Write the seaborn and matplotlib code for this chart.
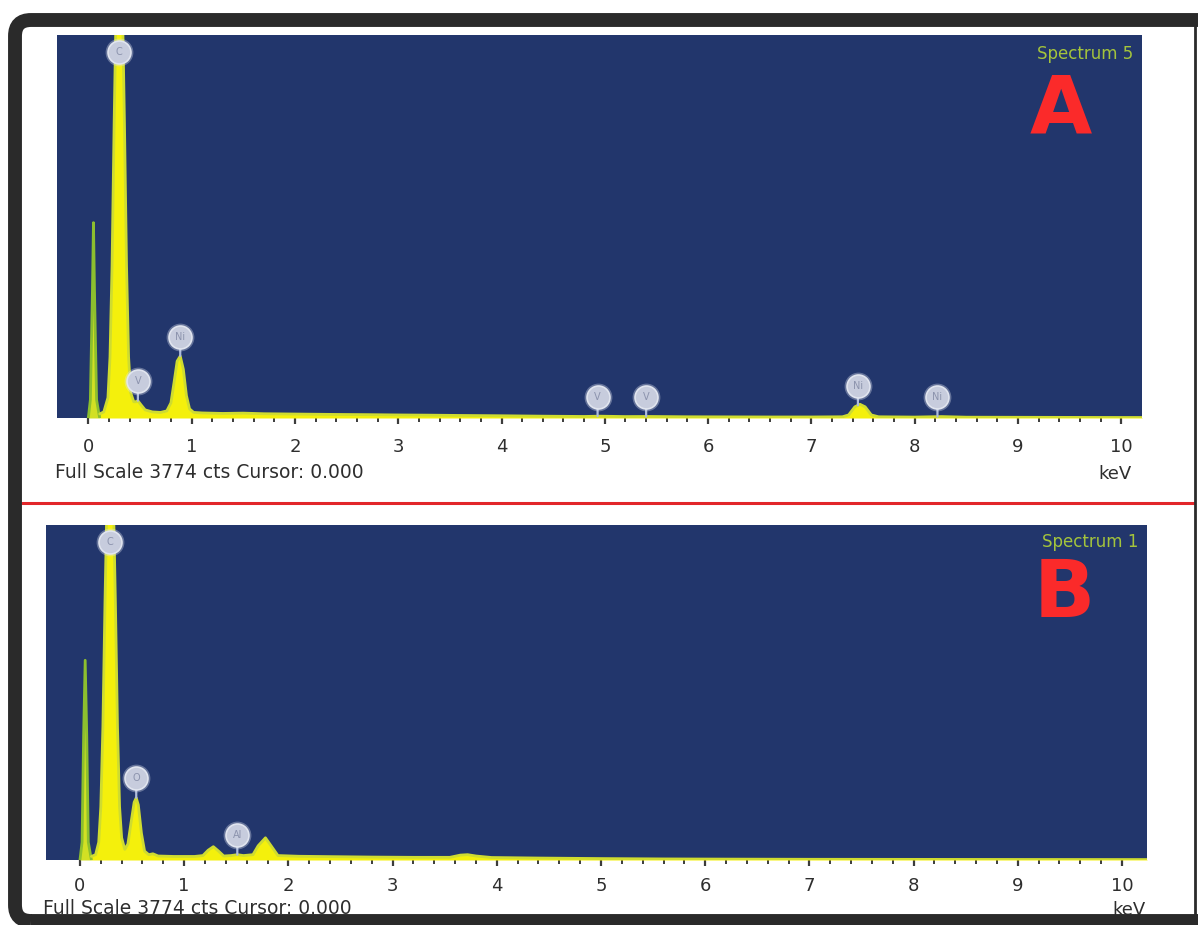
import numpy as np
import pandas as pd
import matplotlib
matplotlib.use("Agg")
import matplotlib.pyplot as plt
from matplotlib.patches import FancyBboxPatch
from matplotlib.lines import Line2D
from matplotlib.ticker import FixedLocator
from matplotlib.transforms import offset_copy, IdentityTransform
import seaborn as sns

# ---------------------------------------------------------------- data
FULL_SCALE = 3774          # counts at the top of each panel
tick_kev = list(range(0, 11))
tick_labels = [str(t) for t in tick_kev]

# Spectrum 5 (panel A): zero-energy strobe peak and measured spectrum
a_zero_kev = [0.00, 0.02, 0.04, 0.05, 0.06, 0.08, 0.11]
a_zero_cts = [0, 180, 1250, 1925, 1250, 180, 0]
a_kev = [0.11, 0.15, 0.19, 0.21, 0.23, 0.25, 0.27, 0.33, 0.35, 0.37, 0.39,
         0.41, 0.44, 0.46, 0.48, 0.51, 0.55, 0.62, 0.70, 0.76, 0.80, 0.83,
         0.86, 0.89, 0.92, 0.95, 0.98, 1.02, 1.10, 1.30, 1.50, 1.70, 1.90,
         2.10, 2.40, 2.70, 3.00, 3.30, 3.60, 4.00, 4.40, 4.80, 4.95, 5.20,
         5.43, 5.80, 6.20, 6.60, 7.00, 7.30, 7.36, 7.42, 7.47, 7.52, 7.58,
         7.65, 8.00, 8.26, 8.50, 9.00, 9.50, 10.00, 10.20]
a_cts = [40, 60, 200, 600, 1500, 2900, 4100, 4100, 2900, 1500, 600,
         250, 160, 160, 170, 130, 80, 60, 55, 70, 150, 350,
         560, 610, 480, 220, 90, 55, 50, 45, 48, 42, 40,
         38, 35, 33, 30, 28, 25, 22, 18, 15, 18, 14,
         15, 12, 11, 10, 10, 12, 30, 110, 135, 110, 30,
         12, 9, 14, 8, 7, 6, 5, 5]
a_line_kev = [0.30, 0.48, 0.89, 4.93, 5.40, 7.45, 8.22]
a_line_lbl = ["C", "V", "Ni", "V", "V", "Ni", "Ni"]

# Spectrum 1 (panel B)
b_zero_kev = [0.00, 0.02, 0.035, 0.05, 0.065, 0.08, 0.11]
b_zero_cts = [0, 200, 1400, 2250, 1400, 200, 0]
b_kev = [0.11, 0.15, 0.18, 0.20, 0.22, 0.24, 0.26, 0.32, 0.34, 0.36, 0.38,
         0.40, 0.43, 0.46, 0.49, 0.52, 0.54, 0.56, 0.59, 0.62, 0.66, 0.70,
         0.75, 0.90, 1.10, 1.18, 1.23, 1.28, 1.33, 1.38, 1.45, 1.51, 1.57,
         1.66, 1.71, 1.78, 1.84, 1.90, 2.10, 2.40, 2.80, 3.20, 3.55, 3.65,
         3.72, 3.80, 3.95, 4.40, 5.00, 5.60, 6.20, 7.00, 8.00, 9.00, 10.24]
b_cts = [40, 60, 200, 600, 1500, 2900, 4100, 4100, 2900, 1500, 600,
         250, 120, 180, 420, 650, 700, 620, 300, 100, 60, 70,
         45, 40, 40, 50, 110, 150, 100, 45, 50, 60, 50,
         60, 160, 250, 150, 50, 42, 38, 33, 30, 30, 55,
         60, 45, 28, 22, 16, 12, 10, 8, 7, 6, 5]
b_line_kev = [0.29, 0.54, 1.51]
b_line_lbl = ["C", "O", "Al"]

# ---------------------------------------------------------------- style
NAVY = "#22366c"
YELLOW = "#f4f00c"
YELLOW_EDGE = "#cfdc30"
ZERO_FILL = "#d2e024"
ZERO_EDGE = "#8cbf2e"
SPEC_GREEN = "#a4c43c"
MARK_FILL = "#c7ccdd"
MARK_EDGE = "#e1e5ef"
STEM = "#aebcdc"
INK = "#2e2e2e"
FRAME = "#2a2a2a"

sns.set_theme(style="white")
plt.rcParams["font.family"] = ["DejaVu Sans"]

W, H = 1198, 925
fig = plt.figure(figsize=(W / 100, H / 100), dpi=100)
fig.patch.set_facecolor("white")


def fx(x):
    return x / W


def fy(y):
    return 1 - y / H


def draw_panel(ax, zero_e, zero_c, e, c, line_e, line_lbl, xlim, label_pad,
               spectrum_name, letter, letter_y):
    ax.set_facecolor(NAVY)
    # zero-energy strobe peak
    ax.fill_between(zero_e, zero_c, color=ZERO_FILL, lw=0, zorder=2)
    sns.lineplot(x=zero_e, y=zero_c, ax=ax, color=ZERO_EDGE, lw=2.0,
                 zorder=3, sort=False)
    # spectrum
    ax.fill_between(e, c, color=YELLOW, lw=0, zorder=2)
    sns.lineplot(x=e, y=c, ax=ax, color=YELLOW_EDGE, lw=2.0, zorder=3,
                 sort=False)
    ax.set_xlim(*xlim)
    ax.set_ylim(0, FULL_SCALE)
    ax.set_xlabel("")
    ax.set_ylabel("")
    ax.set_yticks([])
    for s in ax.spines.values():
        s.set_visible(False)

    ax.xaxis.set_major_locator(FixedLocator(tick_kev))
    ax.set_xticklabels(tick_labels)
    ax.xaxis.set_minor_locator(FixedLocator(np.arange(0, 10.01, 0.2)))
    ax.tick_params(axis="x", which="major", bottom=True, direction="out",
                   length=4.5, width=1.6, color="#3c3c3c", pad=label_pad,
                   labelsize=13, labelcolor=INK)
    ax.tick_params(axis="x", which="minor", bottom=True, direction="out",
                   length=3, width=1.4, color="#3c3c3c")

    # element line markers
    for le, lbl in zip(line_e, line_lbl):
        yv = float(np.interp(le, e, c))
        if yv >= FULL_SCALE * 0.98:
            anchor, dy, stem = FULL_SCALE, -12, False
        else:
            anchor, dy, stem = yv, 14, True
        if stem:
            ax.annotate("", xy=(le, anchor), xytext=(0, dy),
                        textcoords="offset points",
                        arrowprops=dict(arrowstyle="-", color=STEM, lw=1.6,
                                        shrinkA=0, shrinkB=0), zorder=5)
        tr = offset_copy(ax.transData, fig=fig, x=0, y=dy, units="points")
        ax.plot([le], [anchor], marker="o", ms=20, mfc=MARK_EDGE, mec="none",
                alpha=0.35, transform=tr, zorder=6, clip_on=False)
        ax.plot([le], [anchor], marker="o", ms=16.5, mfc=MARK_FILL,
                mec=MARK_EDGE, mew=1.2, transform=tr, zorder=7, clip_on=False)
        ax.text(le, anchor, lbl, transform=tr, ha="center", va="center",
                fontsize=7, color="#8c93ad", zorder=8)

    ax.text(0.992, 0.975, spectrum_name, transform=ax.transAxes, ha="right",
            va="top", fontsize=12, color=SPEC_GREEN)
    ax.text(0.925, letter_y, letter, transform=ax.transAxes, ha="center",
            va="center", fontsize=58, fontweight="bold", color="#fb2a2a",
            family="DejaVu Sans")


# panel A
axA = fig.add_axes([fx(57), fy(418), fx(1142 - 57), (418 - 35) / H])
draw_panel(axA, a_zero_kev, a_zero_cts, a_kev, a_cts, a_line_kev, a_line_lbl,
           (-0.303, 10.2), 10, "Spectrum 5", "A", 0.80)

# panel B
axB = fig.add_axes([fx(46), fy(860), fx(1147 - 46), (860 - 525) / H])
draw_panel(axB, b_zero_kev, b_zero_cts, b_kev, b_cts, b_line_kev, b_line_lbl,
           (-0.326, 10.24), 8, "Spectrum 1", "B", 0.79)

# footer captions
fig.text(fx(55), fy(472), "Full Scale 3774 cts Cursor: 0.000", ha="left",
         va="center", fontsize=13.5, color=INK)
fig.text(fx(1132), fy(474), "keV", ha="right", va="center", fontsize=13,
         color=INK)
fig.text(fx(43), fy(908), "Full Scale 3774 cts Cursor: 0.000", ha="left",
         va="center", fontsize=13.5, color=INK)
fig.text(fx(1146), fy(910), "keV", ha="right", va="center", fontsize=13,
         color=INK)

# red separator between the two spectra
fig.add_artist(Line2D([fx(22), fx(1194)], [fy(503), fy(503)], color="#e2262a",
                      lw=2.2, transform=fig.transFigure))

# dark frame: thick rounded band on the left, top and bottom ...
frame = FancyBboxPatch((15, H - 921), 1260 - 15, 921 - 20,
                       boxstyle="round,pad=0,rounding_size=16",
                       transform=IdentityTransform(), fc="none", ec=FRAME,
                       lw=10, zorder=10)
fig.add_artist(frame)
# ... and a thin straight edge on the right
fig.add_artist(Line2D([1195, 1195], [H - 914, H - 26], color=FRAME, lw=2,
                      transform=IdentityTransform(), zorder=10))

fig.savefig("out.png", dpi=100, facecolor="white")
